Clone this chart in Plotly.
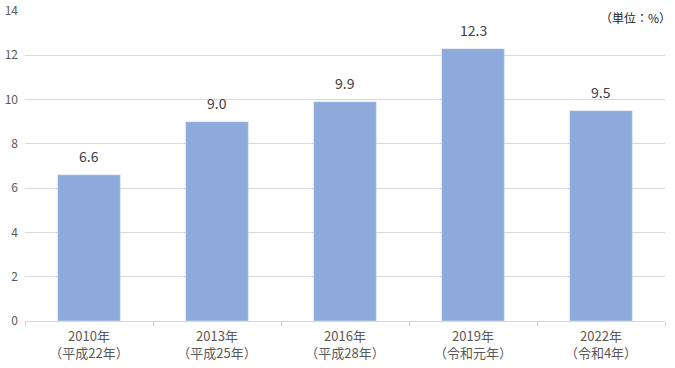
import plotly.graph_objects as go

categories = ["2010年<br>（平成22年）", "2013年<br>（平成25年）", "2016年<br>（平成28年）", "2019年<br>（令和元年）", "2022年<br>（令和4年）"]
values = [6.6, 9.0, 9.9, 12.3, 9.5]
y_ticks = [0, 2, 4, 6, 8, 10, 12, 14]

font_family = "Noto Sans CJK JP, Noto Sans, sans-serif"
text_color = "#595959"

fig = go.Figure(go.Bar(
    x=categories, y=values,
    marker_color="#8EA9DB",
    width=0.49,
    hoverinfo="x+y",
))

annotations = [
    dict(x=c, y=v, text=f"{v:.1f}", xref="x", yref="y", xanchor="center",
         yanchor="bottom", showarrow=False, yshift=7,
         font=dict(size=14, color="#404040", family=font_family))
    for c, v in zip(categories, values)
]
annotations.append(dict(
    text="（単位：%）", xref="paper", yref="paper", x=1.0, y=1.0,
    xanchor="right", yanchor="top", showarrow=False, xshift=8, yshift=4,
    font=dict(size=12, color="#222222"),
))

fig.update_layout(
    width=675, height=368,
    margin=dict(l=25, r=10, t=11, b=47, autoexpand=False),
    plot_bgcolor="white", paper_bgcolor="white",
    showlegend=False,
    font=dict(family=font_family, color=text_color, size=12),
    xaxis=dict(
        showgrid=False, showline=True, linecolor="#d9d9d9", linewidth=1,
        ticks="outside", tickson="boundaries", ticklen=5, tickcolor="#d9d9d9",
        tickfont=dict(size=13, color=text_color), automargin=False,
        ticklabelstandoff=3,
    ),
    yaxis=dict(
        range=[0, 14], tickvals=y_ticks, showgrid=True, gridcolor="#d9d9d9",
        zeroline=False, showline=False, ticks="", ticklen=0,
        tickfont=dict(size=12, color=text_color), automargin=False,
        ticklabelstandoff=6,
    ),
    annotations=annotations,
)

fig.write_html("out.html", config={"displayModeBar": False},
               post_script="document.body.style.margin='0px';")
